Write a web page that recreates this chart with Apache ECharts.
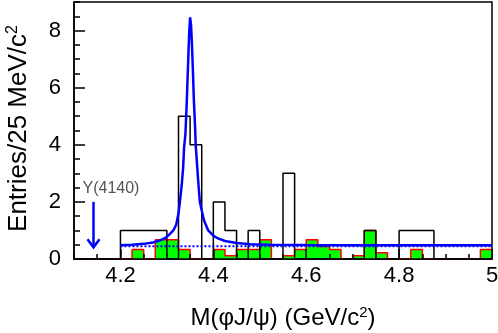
<!DOCTYPE html>
<html>
<head lang="en">
    <meta charset="UTF-8">
    <title></title>
    <script src="https://cdn.jsdelivr.net/npm/echarts@6/dist/echarts.min.js"></script>
</head>
<body style="margin:0">
<div id="container" style="height:333px;width:498px;"></div>
<script>
    // 25 MeV bins starting at 4.1 GeV
    var binLow = 4.1;
    var binWidth = 0.025;
    var dataCounts = [0, 0, 0, 0, 1, 1, 1, 1, 0, 5, 4, 0, 2, 1, 0, 1, 0, 0,
                      3, 0, 0, 0, 0, 0, 0, 1, 0, 0, 1, 1, 1, 0, 0, 0, 0, 0];
    var bkgCounts = [0, 0, 0, 0, 0, 0.33, 0, 0.67, 0.67, 0.33, 0, 0, 0.33, 0.11, 0.33, 0.33, 0.67, 0,
                     0.11, 0.33, 0.67, 0.44, 0.33, 0, 0.11, 1, 0.22, 0, 0, 0.33, 0, 0, 0, 0, 0, 0.33];
    // fit curve
    var fitCurve = [[4.200, 0.48], [4.225, 0.50], [4.250, 0.53], [4.270, 0.58], [4.285, 0.65],
        [4.295, 0.72], [4.305, 0.85], [4.314, 1.00], [4.320, 1.20], [4.325, 1.60], [4.328, 2.00],
        [4.332, 2.60], [4.335, 3.20], [4.337, 3.90], [4.340, 4.40], [4.343, 5.60], [4.346, 7.00],
        [4.348, 7.90], [4.350, 8.46], [4.352, 8.20], [4.354, 7.50], [4.356, 6.60], [4.358, 5.60],
        [4.361, 4.50], [4.362, 4.00], [4.365, 3.30], [4.368, 2.60], [4.371, 2.00], [4.375, 1.70],
        [4.380, 1.35], [4.389, 1.00], [4.400, 0.82], [4.410, 0.72], [4.425, 0.63], [4.450, 0.56],
        [4.480, 0.52], [4.520, 0.50], [4.600, 0.49], [4.700, 0.48], [4.800, 0.48], [4.900, 0.48],
        [5.000, 0.48]];
    var bkgLine = [[4.2, 0.45], [5.0, 0.45]];
    var arrow = [[4.142, 2.0, 0.41]];
    var arrowLabel = 'Y(4140)';
    var xLabels = [4.2, 4.4, 4.6, 4.8, 5];

    function toSteps(counts) {
        var pts = [];
        for (var i = 0; i < counts.length; i++) {
            pts.push([+(binLow + i * binWidth).toFixed(3), counts[i]]);
        }
        pts.push([+(binLow + counts.length * binWidth).toFixed(3), counts[counts.length - 1]]);
        return pts;
    }

    var dom = document.getElementById("container");
    var myChart = echarts.init(dom);
    var font = '"Liberation Sans", Arial, sans-serif';
    var black = {color: '#000', width: 1.5};

    var option = {
        animation: false,
        grid: {left: 74, right: 6, top: 2, bottom: 74, show: true, borderColor: '#000', borderWidth: 1.5,
               outerBoundsMode: 'none'},
        xAxis: [{
            type: 'value', min: 4.1, max: 5.0, position: 'bottom', z: 5,
            axisLine: {lineStyle: black},
            axisTick: {inside: true, length: 10, customValues: xLabels, lineStyle: black},
            axisLabel: {customValues: xLabels, fontSize: 22, fontFamily: font, color: '#000', margin: 6},
            splitLine: {show: false},
            name: 'M(\u03c6J/\u03c8) (GeV/c{sup|2})',
            nameLocation: 'middle', nameGap: 46,
            nameTextStyle: {fontSize: 24, fontFamily: font, color: '#000',
                rich: {sup: {fontSize: 15, fontFamily: font, color: '#000', padding: [0, 0, 12, 0]}}}
        }, {
            type: 'value', min: 4.1, max: 5.0, position: 'bottom', interval: 0.05, z: 5,
            axisLine: {show: false},
            axisTick: {inside: true, length: 5, lineStyle: black},
            axisLabel: {show: false},
            splitLine: {show: false}
        }],
        yAxis: [{
            type: 'value', min: 0, max: 9, interval: 2, position: 'left', z: 5,
            axisLine: {lineStyle: black},
            axisTick: {inside: true, length: 11, lineStyle: black},
            axisLabel: {fontSize: 22, fontFamily: font, color: '#000', margin: 13, showMaxLabel: false},
            splitLine: {show: false},
            name: 'Entries/25 MeV/c{sup|2}',
            nameLocation: 'middle', nameGap: 41, nameRotate: 90,
            nameTextStyle: {fontSize: 26, fontFamily: font, color: '#000', padding: [0, 0, 0, 4],
                rich: {sup: {fontSize: 16, fontFamily: font, color: '#000', padding: [0, 0, 12, 0]}}}
        }, {
            type: 'value', min: 0, max: 9, interval: 0.5, position: 'left', z: 5,
            axisLine: {show: false},
            axisTick: {inside: true, length: 6, lineStyle: black},
            axisLabel: {show: false},
            splitLine: {show: false}
        }],
        series: [
            {
                name: 'background', type: 'line', step: 'end', data: toSteps(bkgCounts),
                symbol: 'none', z: 2,
                lineStyle: {color: '#ff0000', width: 1.5},
                areaStyle: {color: '#00ff00', opacity: 1}
            },
            {
                name: 'data', type: 'line', step: 'end', data: toSteps(dataCounts),
                symbol: 'none', z: 3,
                lineStyle: {color: '#000', width: 1.5}
            },
            {
                name: 'bkg', type: 'line', data: bkgLine, symbol: 'none', z: 4,
                lineStyle: {color: '#0000ff', width: 2, type: [2, 2]}
            },
            {
                name: 'fit', type: 'line', data: fitCurve, symbol: 'none', z: 4,
                lineStyle: {color: '#0000ff', width: 2.5}
            },
            {
                name: 'arrow', type: 'custom', data: arrow, z: 4,
                renderItem: function (params, api) {
                    var top = api.coord([api.value(0), api.value(1)]);
                    var bot = api.coord([api.value(0), api.value(2)]);
                    return {
                        type: 'group',
                        children: [
                            {type: 'polyline', shape: {points: [top, bot]},
                             style: {stroke: '#0000ff', lineWidth: 2.5, fill: null}},
                            {type: 'polyline', shape: {points: [[bot[0] - 6, bot[1] - 8], bot, [bot[0] + 6, bot[1] - 8]]},
                             style: {stroke: '#0000ff', lineWidth: 2.5, fill: null}},
                            {type: 'text', x: top[0] - 11, y: top[1] - 5,
                             style: {text: arrowLabel, fill: '#555', fontSize: 16, fontFamily: font,
                                     align: 'left', verticalAlign: 'bottom'}}
                        ]
                    };
                }
            }
        ]
    };
    myChart.setOption(option);
</script>
</body>
</html>
